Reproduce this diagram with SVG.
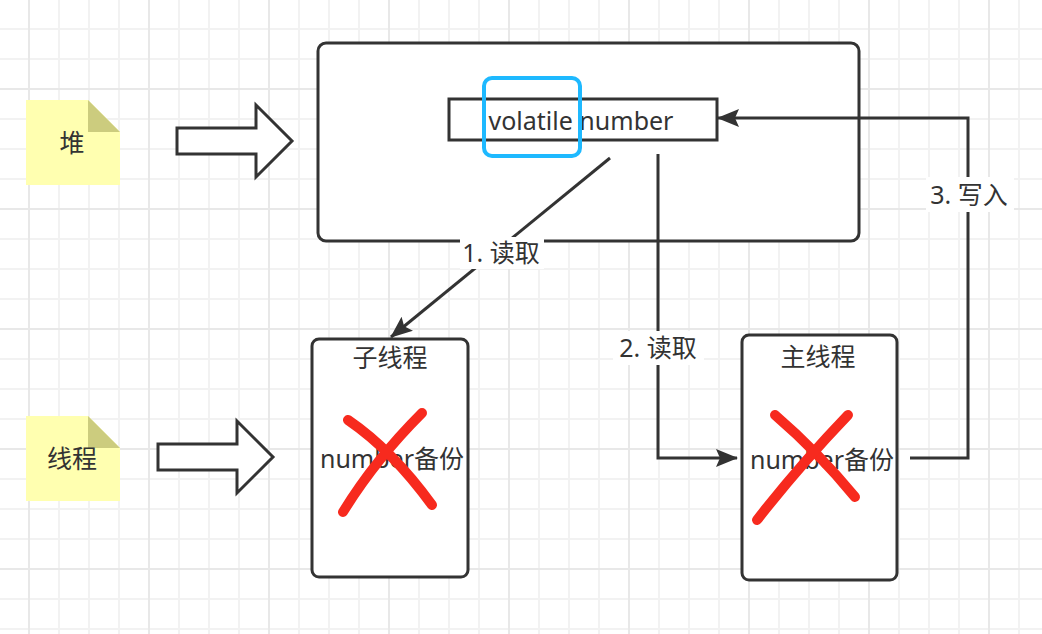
<svg xmlns="http://www.w3.org/2000/svg" width="1042" height="634" viewBox="0 0 1042 634">
<defs>
<pattern id="minor" patternUnits="userSpaceOnUse" x="28" y="28" width="30" height="30">
<path d="M0 1H30M1 0V30" stroke="#f2f2f2" stroke-width="2" fill="none"/>
</pattern>
<pattern id="majorV" patternUnits="userSpaceOnUse" x="28" y="88" width="120" height="120">
<path d="M1 0V120" stroke="#e8e8e8" stroke-width="2" fill="none"/>
<path d="M0 1H120" stroke="#e8e8e8" stroke-width="2" fill="none"/>
</pattern>
<marker id="arr" markerUnits="userSpaceOnUse" viewBox="0 0 22 18" refX="21" refY="9" markerWidth="22" markerHeight="18" orient="auto">
<path d="M0,0 L22,9 L0,18 L4,9 Z" fill="#333333"/>
</marker>
<polygon id="blockArrow" points="0,-13 79,-13 79,-36 115,0 79,36 79,13 0,13"/>
</defs>
<style>
.box{fill:#ffffff;stroke:#333333;stroke-width:3}
.note{fill:#ffffb0}
.fold{fill:#cccc7e}
.t{font-family:"Noto Sans","Noto Sans CJK SC",sans-serif;font-size:25px;fill:#333333;text-anchor:middle}
.ba{fill:#ffffff;stroke:#333333;stroke-width:3;stroke-linejoin:miter}
.x{fill:none;stroke:#f72a1e;stroke-width:10;stroke-linecap:round}
.edge{fill:none;stroke:#333333;stroke-width:3}
.lbl{fill:#ffffff}
</style>
<rect width="1042" height="634" fill="#ffffff"/>
<rect width="1042" height="634" fill="url(#minor)"/>
<rect width="1042" height="634" fill="url(#majorV)"/>

<g id="note-heap">
<path class="note" d="M26,100 H88 L120,132 V185 H26 Z"/>
<path class="fold" d="M88,100 L120,132 H88 Z"/>
<text class="t" x="72" y="152">堆</text>
</g>
<g id="note-thread">
<path class="note" d="M26,416 H88 L120,448 V501 H26 Z"/>
<path class="fold" d="M88,416 L120,448 H88 Z"/>
<text class="t" x="72" y="468">线程</text>
</g>
<g id="arrow-heap">
<use href="#blockArrow" class="ba" transform="translate(177,141)"/>
</g>
<g id="arrow-thread">
<use href="#blockArrow" class="ba" transform="translate(158,457)"/>
</g>

<g id="heap">
<rect class="box" x="318" y="43" width="541" height="198" rx="8" ry="8"/>
</g>
<g id="volatile-number">
<rect class="box" x="449" y="99" width="268" height="41"/>
<text class="t" x="581" y="130">volatile number</text>
<rect x="484" y="78" width="96" height="78" rx="8" ry="8" fill="none" stroke="#1eb9ff" stroke-width="4"/>
</g>

<g id="child-thread">
<rect class="box" x="312" y="339" width="156" height="238" rx="7" ry="7"/>
<text class="t" x="390" y="367">子线程</text>
<text class="t" x="392" y="468">number备份</text>
<path class="x" d="M348,420 Q392,450 432,505"/>
<path class="x" d="M422,413 Q375,460 343,512"/>
</g>

<g id="main-thread">
<rect class="box" x="742" y="335" width="155" height="245" rx="7" ry="7"/>
<text class="t" x="818" y="366">主线程</text>
<text class="t" x="822" y="469">number备份</text>
<path class="x" d="M775,415 Q818,452 855,497"/>
<path class="x" d="M848,415 Q800,465 757,520"/>
</g>

<g id="connectors">
<path class="edge" d="M610,158 L391,337" marker-end="url(#arr)"/>
<path class="edge" d="M658,154 V458 H737" marker-end="url(#arr)"/>
<path class="edge" d="M910,458 H968 V118 H718" marker-end="url(#arr)"/>
<rect class="lbl" x="460" y="237" width="84" height="32"/>
<text class="t" x="501" y="262">1. 读取</text>
<rect class="lbl" x="613" y="331" width="91" height="34"/>
<text class="t" x="658" y="357">2. 读取</text>
<rect class="lbl" x="926" y="177" width="88" height="35"/>
<text class="t" x="969" y="204">3. 写入</text>
</g>
</svg>
